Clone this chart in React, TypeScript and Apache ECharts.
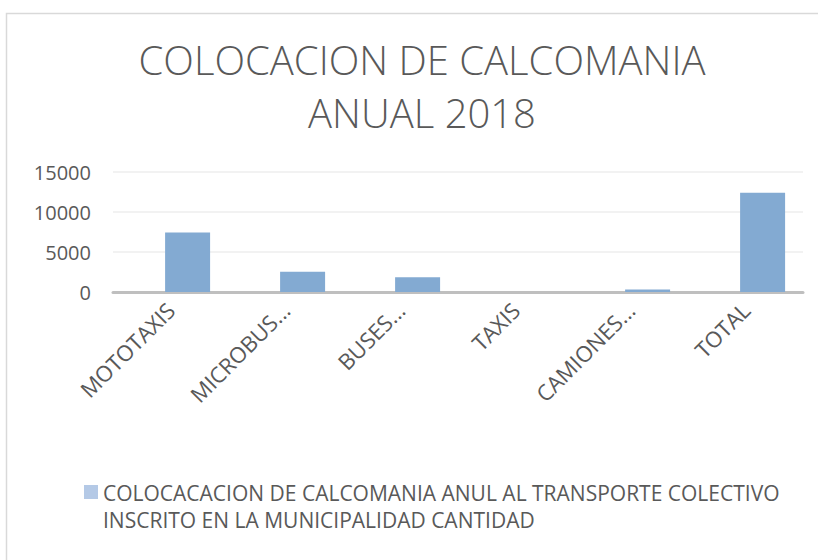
import React, { useEffect, useRef } from "react";
import * as echarts from "echarts";

const titleLines = ["COLOCACION DE CALCOMANIA", "ANUAL 2018"];
const categories = ["MOTOTAXIS", "MICROBUS...", "BUSES...", "TAXIS", "CAMIONES...", "TOTAL"];
const seriesName = "COLOCACACION DE CALCOMANIA ANUL AL TRANSPORTE COLECTIVO INSCRITO EN LA MUNICIPALIDAD CANTIDAD";
const legendLines = ["COLOCACACION DE CALCOMANIA ANUL AL TRANSPORTE COLECTIVO", "INSCRITO EN LA MUNICIPALIDAD CANTIDAD"];
const values = [7440, 2540, 1830, 0, 300, 12420];
const emptySlot = [null, null, null, null, null, null];
const yTicks = [0, 5000, 10000, 15000];

export default function App() {
  const ref = useRef<HTMLDivElement>(null);
  useEffect(() => {
    const chart = echarts.init(ref.current!, null, { renderer: "svg" });
    const font = "'Open Sans', 'Noto Sans', sans-serif";
    chart.setOption({
      animation: false,
      backgroundColor: "#ffffff",
      textStyle: { fontFamily: font },
      title: {
        text: titleLines.join("\n"),
        left: 417,
        top: 28,
        textAlign: "center",
        textStyle: { fontSize: 40, fontWeight: 300, color: "#595959", lineHeight: 53, fontFamily: font },
      },
      legend: {
        left: 79,
        top: 474,
        icon: "none",
        itemWidth: 14,
        itemHeight: 14,
        data: [{ name: seriesName }],
        formatter: () => legendLines.join("\n"),
        textStyle: { fontSize: 21, color: "#595959", lineHeight: 27, fontFamily: font },
        selectedMode: false,
      },
      grid: { left: 113, right: 15, top: 172, bottom: 268, containLabel: false },
      xAxis: {
        type: "category",
        data: categories,
        axisTick: { show: false },
        axisLine: { lineStyle: { color: "#bfbfbf", width: 3 } },
        axisLabel: { rotate: 45, margin: 14, fontSize: 22, color: "#595959", fontFamily: font, interval: 0 },
      },
      yAxis: {
        type: "value",
        min: yTicks[0],
        max: yTicks[yTicks.length - 1],
        interval: 5000,
        axisLine: { show: false },
        axisTick: { show: false },
        axisLabel: { fontSize: 20, color: "#595959", margin: 22, fontFamily: font, formatter: (v: number) => String(v) },
        splitLine: { lineStyle: { color: "#eeeeee", width: 1.5 } },
      },
      series: [
        {
          name: "",
          type: "bar",
          data: emptySlot,
          barWidth: 45,
          barGap: "-24%",
          itemStyle: { color: "#83aad2" },
        },
        {
          name: seriesName,
          type: "bar",
          data: values,
          barWidth: 45,
          barGap: "-24%",
          itemStyle: { color: "#83aad2" },
        },
      ],
      graphic: [
        {
          type: "rect",
          shape: { x: 6.5, y: 13.5, width: 900, height: 700 },
          style: { fill: "none", stroke: "#d9d9d9", lineWidth: 1.5 },
          silent: true,
        },
        {
          type: "rect",
          shape: { x: 84, y: 485, width: 14, height: 14 },
          style: { fill: "#b4c9e6" },
          silent: true,
        },
      ],
    });
    return () => chart.dispose();
  }, []);
  return <div ref={ref} style={{ position: "fixed", left: 0, top: 0, width: 818, height: 560 }} />;
}
